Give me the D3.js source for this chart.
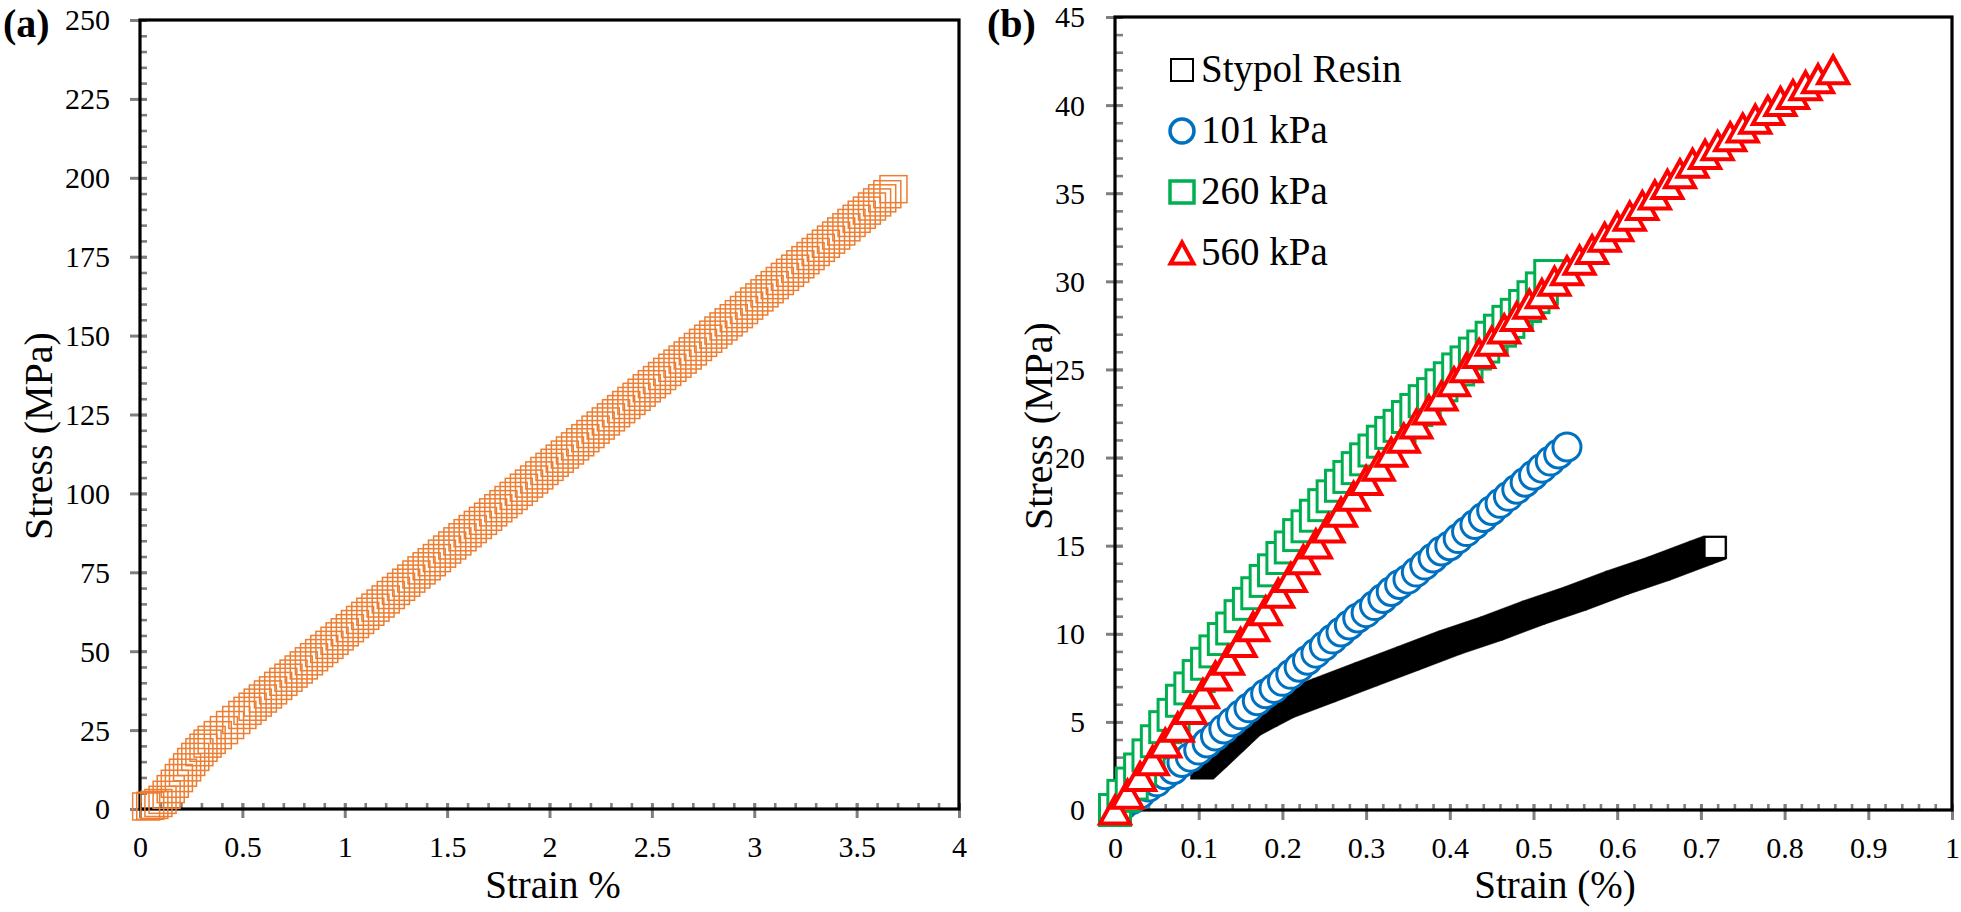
<!DOCTYPE html>
<html>
<head>
<meta charset="utf-8">
<script src="https://cdn.jsdelivr.net/npm/d3@7"></script>
<style>
    body { margin: 0; background: #fff; }
</style>
</head>
<body>
<div id="chart"></div>
<script>
var width = 1961;
var height = 912;
var serif = "'Liberation Serif', 'Times New Roman', serif";

// ---- panel (a) data ----
var strainA = [0.03, 0.05, 0.07, 0.09, 0.11, 0.13, 0.15, 0.17, 0.19, 0.21, 0.23, 0.25, 0.27, 0.29, 0.31, 0.33, 0.35, 0.38, 0.41, 0.44, 0.47,
    0.500, 0.525, 0.550, 0.575, 0.600, 0.625, 0.650, 0.675, 0.700, 0.725, 0.750, 0.775, 0.800, 0.825, 0.850, 0.875, 0.900, 0.925, 0.950, 0.975,
    1.000, 1.025, 1.050, 1.075, 1.100, 1.125, 1.150, 1.175, 1.200, 1.225, 1.250, 1.275, 1.300, 1.325, 1.350, 1.375, 1.400, 1.425, 1.450, 1.475,
    1.500, 1.525, 1.550, 1.575, 1.600, 1.625, 1.650, 1.675, 1.700, 1.725, 1.750, 1.775, 1.800, 1.825, 1.850, 1.875, 1.900, 1.925, 1.950, 1.975,
    2.000, 2.025, 2.050, 2.075, 2.100, 2.125, 2.150, 2.175, 2.200, 2.225, 2.250, 2.275, 2.300, 2.325, 2.350, 2.375, 2.400, 2.425, 2.450, 2.475,
    2.500, 2.525, 2.550, 2.575, 2.600, 2.625, 2.650, 2.675, 2.700, 2.725, 2.750, 2.775, 2.800, 2.825, 2.850, 2.875, 2.900, 2.925, 2.950, 2.975,
    3.000, 3.025, 3.050, 3.075, 3.100, 3.125, 3.150, 3.175, 3.200, 3.225, 3.250, 3.275, 3.300, 3.325, 3.350, 3.375, 3.400, 3.425, 3.450, 3.475,
    3.500, 3.525, 3.550, 3.575, 3.600, 3.625, 3.650, 3.680];
var stressA = [0.8, 1.0, 1.3, 1.9, 2.9, 4.5, 6.3, 8.0, 9.8, 11.5, 13.2, 14.9, 16.5, 18.0, 19.4, 20.7, 21.9, 23.4, 25.0, 26.6, 28.2,
    29.8, 31.1, 32.4, 33.7, 35.0, 36.3, 37.6, 39.0, 40.3, 41.6, 42.9, 44.2, 45.5, 46.8, 48.1, 49.4, 50.7, 52.0, 53.3, 54.7,
    56.0, 57.3, 58.6, 59.9, 61.2, 62.5, 63.8, 65.1, 66.4, 67.8, 69.1, 70.4, 71.7, 73.0, 74.3, 75.6, 76.9, 78.2, 79.5, 80.9,
    82.2, 83.5, 84.8, 86.1, 87.4, 88.7, 90.0, 91.3, 92.6, 94.0, 95.3, 96.6, 97.9, 99.2, 100.5, 101.8, 103.1, 104.4, 105.7, 107.1,
    108.4, 109.7, 111.0, 112.3, 113.6, 114.9, 116.2, 117.5, 118.8, 120.2, 121.5, 122.8, 124.1, 125.4, 126.7, 128.0, 129.3, 130.6, 131.9, 133.3,
    134.6, 135.9, 137.2, 138.5, 139.8, 141.1, 142.4, 143.7, 145.0, 146.4, 147.7, 149.0, 150.3, 151.6, 152.9, 154.2, 155.5, 156.8, 158.1, 159.5,
    160.8, 162.1, 163.4, 164.7, 166.0, 167.3, 168.6, 169.9, 171.2, 172.6, 173.9, 175.2, 176.5, 177.8, 179.1, 180.4, 181.7, 183.0, 184.3, 185.7,
    187.0, 188.3, 189.6, 190.9, 192.2, 193.5, 194.8, 196.4];
var xTicksA = [0, 0.5, 1, 1.5, 2, 2.5, 3, 3.5, 4];
var yTicksA = [0, 25, 50, 75, 100, 125, 150, 175, 200, 225, 250];

// ---- panel (b) data ----
var seriesNames = ["Stypol Resin", "101 kPa", "260 kPa", "560 kPa"];

var strainResin = [0.104, 0.12, 0.14, 0.16, 0.18, 0.20, 0.25, 0.30, 0.35, 0.40, 0.45, 0.50, 0.55, 0.60, 0.65, 0.70, 0.717];
var stressResin = [2.4, 3.1, 4.0, 4.9, 5.4, 5.9, 6.8, 7.7, 8.6, 9.5, 10.3, 11.2, 12.0, 12.9, 13.7, 14.6, 14.9];

var strain101 = [0.00, 0.01, 0.02, 0.03, 0.04, 0.05, 0.06, 0.07, 0.08, 0.09,
    0.10, 0.11, 0.12, 0.13, 0.14, 0.15, 0.16, 0.17, 0.18, 0.19,
    0.20, 0.21, 0.22, 0.23, 0.24, 0.25, 0.26, 0.27, 0.28, 0.29,
    0.30, 0.31, 0.32, 0.33, 0.34, 0.35, 0.36, 0.37, 0.38, 0.39,
    0.40, 0.41, 0.42, 0.43, 0.44, 0.45, 0.46, 0.47, 0.48, 0.49,
    0.50, 0.51, 0.52, 0.53, 0.54];
var stress101 = [0.0, 0.3, 0.6, 0.9, 1.3, 1.6, 2.0, 2.3, 2.7, 3.0,
    3.4, 3.8, 4.2, 4.6, 5.0, 5.4, 5.8, 6.2, 6.6, 6.9,
    7.3, 7.7, 8.1, 8.5, 8.9, 9.3, 9.7, 10.1, 10.5, 10.9,
    11.2, 11.6, 12.0, 12.4, 12.8, 13.1, 13.5, 13.9, 14.3, 14.7,
    15.0, 15.4, 15.8, 16.2, 16.6, 17.0, 17.4, 17.8, 18.2, 18.6,
    19.0, 19.4, 19.8, 20.2, 20.6];

var strain260 = [0.00, 0.01, 0.02, 0.03, 0.04, 0.05, 0.06, 0.07, 0.08, 0.09,
    0.10, 0.11, 0.12, 0.13, 0.14, 0.15, 0.16, 0.17, 0.18, 0.19,
    0.20, 0.21, 0.22, 0.23, 0.24, 0.25, 0.26, 0.27, 0.28, 0.29,
    0.30, 0.31, 0.32, 0.33, 0.34, 0.35, 0.36, 0.37, 0.38, 0.39,
    0.40, 0.41, 0.42, 0.43, 0.44, 0.45, 0.46, 0.47, 0.48, 0.49,
    0.50, 0.51, 0.52];
var stress260 = [0.0, 0.8, 1.5, 2.3, 3.1, 3.9, 4.7, 5.4, 6.2, 6.9,
    7.6, 8.3, 9.0, 9.7, 10.3, 11.0, 11.7, 12.3, 13.0, 13.6,
    14.3, 14.9, 15.6, 16.1, 16.7, 17.3, 17.8, 18.4, 18.9, 19.4,
    19.9, 20.4, 20.9, 21.4, 21.8, 22.3, 22.7, 23.2, 23.6, 24.1,
    24.5, 25.0, 25.4, 25.9, 26.3, 26.8, 27.2, 27.7, 28.1, 28.6,
    29.1, 29.6, 30.3];

var strain560 = [0, 0.015, 0.03, 0.045, 0.06, 0.075, 0.09, 0.105, 0.12, 0.135,
    0.15, 0.165, 0.18, 0.195, 0.21, 0.225, 0.24, 0.255, 0.27, 0.285,
    0.30, 0.315, 0.33, 0.345, 0.36, 0.375, 0.39, 0.405, 0.42, 0.435,
    0.45, 0.465, 0.48, 0.495, 0.51, 0.525, 0.54, 0.555, 0.57, 0.585,
    0.60, 0.615, 0.63, 0.645, 0.66, 0.675, 0.69, 0.705, 0.72, 0.735,
    0.75, 0.765, 0.78, 0.795, 0.81, 0.825, 0.84, 0.858];
var stress560 = [0.0, 0.9, 1.9, 2.8, 3.8, 4.7, 5.7, 6.6, 7.6, 8.5,
    9.5, 10.4, 11.3, 12.3, 13.2, 14.2, 15.1, 16.0, 16.9, 17.8,
    18.7, 19.5, 20.3, 21.1, 21.9, 22.7, 23.5, 24.3, 25.1, 25.9,
    26.6, 27.3, 28.0, 28.7, 29.3, 30.0, 30.6, 31.2, 31.8, 32.5,
    33.1, 33.7, 34.3, 34.9, 35.5, 36.1, 36.7, 37.2, 37.7, 38.2,
    38.7, 39.2, 39.7, 40.2, 40.6, 41.1, 41.5, 42.0];

var xTicksB = [0, 0.1, 0.2, 0.3, 0.4, 0.5, 0.6, 0.7, 0.8, 0.9, 1];
var yTicksB = [0, 5, 10, 15, 20, 25, 30, 35, 40, 45];

// minor tick positions
var xMinorA = d3.range(0, 41).map(function (d) { return d / 10; });
var yMinorA = d3.range(0, 251, 5);
var xMinorB = d3.range(0, 51).map(function (d) { return d / 50; });
var yMinorB = d3.range(0, 46, 1);

function zip(xs, ys) {
    return xs.map(function (d, i) { return [d, ys[i]]; });
}

var svg = d3.select("#chart")
    .append("svg")
    .attr("width", width)
    .attr("height", height)
    .style("font-family", serif);

var tickGray = "#7f7f7f";

function label(x, y, size, txt, anchor, bold, rotate) {
    var t = svg.append("text")
        .attr("transform", "translate(" + x + "," + y + ")" + (rotate ? " rotate(-90)" : ""))
        .attr("text-anchor", anchor)
        .style("font-family", serif)
        .style("font-size", size + "px")
        .attr("fill", "#000")
        .text(txt);
    if (bold) t.style("font-weight", "bold");
    return t;
}

function drawAxes(x, y, xMajor, yMajor, xMinor, yMinor, xOut, yOut, yIn, xIn) {
    var x0 = x.range()[0], y0 = y.range()[0];

    // minor ticks, inside only
    svg.append("g").attr("transform", "translate(0," + y0 + ")")
        .call(d3.axisBottom(x).tickValues(xMinor).tickSize(-xIn).tickFormat(""))
        .call(function (g) {
            g.select(".domain").remove();
            g.selectAll("line").attr("stroke", tickGray).attr("stroke-width", 2.6);
        });
    svg.append("g").attr("transform", "translate(" + x0 + ",0)")
        .call(d3.axisLeft(y).tickValues(yMinor).tickSize(-yIn).tickFormat(""))
        .call(function (g) {
            g.select(".domain").remove();
            g.selectAll("line").attr("stroke", tickGray).attr("stroke-width", 2.6);
        });

    // major ticks cross the axis
    svg.append("g").attr("transform", "translate(0," + y0 + ")")
        .call(d3.axisBottom(x).tickValues(xMajor).tickSize(xOut).tickFormat(d3.format("")))
        .call(function (g) {
            g.select(".domain").remove();
            g.selectAll("line").attr("y1", -xIn)
                .attr("stroke", tickGray).attr("stroke-width", 3);
            g.selectAll("text").attr("y", 48).attr("dy", null)
                .style("font-family", serif).style("font-size", "30px").attr("fill", "#000");
        });
    svg.append("g").attr("transform", "translate(" + x0 + ",0)")
        .call(d3.axisLeft(y).tickValues(yMajor).tickSize(yOut).tickPadding(30 - yOut))
        .call(function (g) {
            g.select(".domain").remove();
            g.selectAll("line").attr("x1", yIn)
                .attr("stroke", tickGray).attr("stroke-width", 3);
            g.selectAll("text").attr("dy", "0.33em")
                .style("font-family", serif).style("font-size", "30px").attr("fill", "#000");
        });

    // plot frame
    svg.append("rect")
        .attr("x", x.range()[0]).attr("y", y.range()[1])
        .attr("width", x.range()[1] - x.range()[0])
        .attr("height", y.range()[0] - y.range()[1])
        .attr("fill", "none").attr("stroke", "#000").attr("stroke-width", 3.2);
}

// ================= panel (a) =================
var xA = d3.scaleLinear().domain([0, 4]).range([140, 959]);
var yA = d3.scaleLinear().domain([0, 250]).range([809, 20]);

drawAxes(xA, yA, xTicksA, yTicksA, xMinorA, yMinorA, 9, 10, 7, 6);

var sizeA = 27;
svg.append("g").selectAll("rect").data(zip(strainA, stressA))
    .enter()
    .append("rect")
    .attr("x", function (d) { return xA(d[0]) - sizeA / 2; })
    .attr("y", function (d) { return yA(d[1]) - sizeA / 2; })
    .attr("width", sizeA).attr("height", sizeA)
    .attr("fill", "none")
    .attr("stroke", "#ED7D31")
    .attr("stroke-width", 1.5);

label(3, 37, 40, "(a)", "start", true);
label(553, 898, 39, "Strain %", "middle");
label(52, 436, 40, "Stress (MPa)", "middle", false, true);

// ================= panel (b) =================
var xB = d3.scaleLinear().domain([0, 1]).range([1115, 1952]);
var yB = d3.scaleLinear().domain([0, 45]).range([810, 17]);

drawAxes(xB, yB, xTicksB, yTicksB, xMinorB, yMinorB, 10, 9, 8, 6);

// Stypol Resin: the densely packed squares merge into one solid band
var resin = zip(strainResin, stressResin);
var hr = 11.5;
function sq(p) {
    var cx = xB(p[0]), cy = yB(p[1]);
    return [[cx - hr, cy - hr], [cx + hr, cy - hr], [cx + hr, cy + hr], [cx - hr, cy + hr]];
}
svg.append("g").selectAll("path").data(d3.pairs(resin))
    .enter()
    .append("path")
    .attr("d", function (d) {
        return "M" + d3.polygonHull(sq(d[0]).concat(sq(d[1]))).join("L") + "Z";
    })
    .attr("fill", "#000").attr("stroke", "#000").attr("stroke-width", 0.5);
svg.append("g").selectAll("rect").data(resin.slice(-1))
    .enter()
    .append("rect")
    .attr("x", function (d) { return xB(d[0]) - 10.5; })
    .attr("y", function (d) { return yB(d[1]) - 10.5; })
    .attr("width", 21).attr("height", 21)
    .attr("fill", "#fff").attr("stroke", "#000").attr("stroke-width", 2);

// 101 kPa circles
svg.append("g").selectAll("circle").data(zip(strain101, stress101))
    .enter()
    .append("circle")
    .attr("cx", function (d) { return xB(d[0]); })
    .attr("cy", function (d) { return yB(d[1]); })
    .attr("r", 14)
    .attr("fill", "#fff").attr("stroke", "#0070C0").attr("stroke-width", 3);

// 260 kPa squares
var size260 = 31;
svg.append("g").selectAll("rect").data(zip(strain260, stress260))
    .enter()
    .append("rect")
    .attr("x", function (d) { return xB(d[0]) - size260 / 2; })
    .attr("y", function (d) { return yB(d[1]) - size260 / 2; })
    .attr("width", size260).attr("height", size260)
    .attr("fill", "#fff").attr("stroke", "#00B050").attr("stroke-width", 3);

// 560 kPa triangles
var tri = "M0,-13.5L15,13.5L-15,13.5Z";
svg.append("g").selectAll("path").data(zip(strain560, stress560))
    .enter()
    .append("path")
    .attr("transform", function (d) { return "translate(" + xB(d[0]) + "," + yB(d[1]) + ")"; })
    .attr("d", tri)
    .attr("fill", "#fff").attr("stroke", "#FF0000").attr("stroke-width", 4);

// legend
var legendY = [70, 131, 192, 253];
var lg = svg.append("g").attr("transform", "translate(1182,0)");
lg.append("rect").attr("x", -11).attr("y", legendY[0] - 11).attr("width", 22).attr("height", 22)
    .attr("fill", "#fff").attr("stroke", "#000").attr("stroke-width", 2);
lg.append("circle").attr("cx", 0).attr("cy", legendY[1]).attr("r", 12)
    .attr("fill", "#fff").attr("stroke", "#0070C0").attr("stroke-width", 3.5);
lg.append("rect").attr("x", -12).attr("y", legendY[2] - 11).attr("width", 24).attr("height", 22)
    .attr("fill", "#fff").attr("stroke", "#00B050").attr("stroke-width", 3.5);
lg.append("path").attr("transform", "translate(0," + legendY[3] + ")")
    .attr("d", "M0,-10.5L11.5,10.5L-11.5,10.5Z")
    .attr("fill", "#fff").attr("stroke", "#FF0000").attr("stroke-width", 4);
lg.selectAll("text").data(seriesNames)
    .enter()
    .append("text")
    .attr("x", 19)
    .attr("y", function (d, i) { return legendY[i] + 12; })
    .style("font-family", serif)
    .style("font-size", "39px")
    .attr("fill", "#000")
    .text(function (d) { return d; });

label(987, 37, 40, "(b)", "start", true);
label(1555, 898, 39, "Strain (%)", "middle");
label(1052, 426, 40, "Stress (MPa)", "middle", false, true);
</script>
</body>
</html>
